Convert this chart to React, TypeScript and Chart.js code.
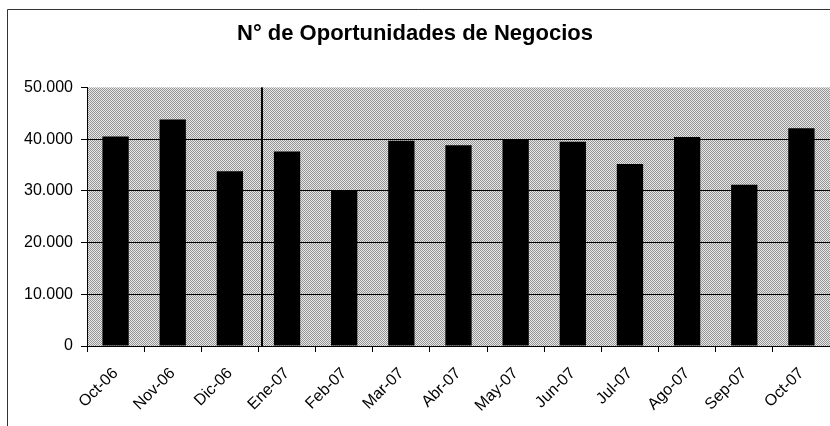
import React, { useEffect, useRef } from "react";
import { Chart, registerables } from "chart.js";

Chart.register(...registerables);

const categories = [
  "Oct-06", "Nov-06", "Dic-06", "Ene-07", "Feb-07", "Mar-07", "Abr-07",
  "May-07", "Jun-07", "Jul-07", "Ago-07", "Sep-07", "Oct-07",
];
const oportunidades = [
  40500, 43800, 33800, 37600, 30000, 39700, 38800,
  40000, 39500, 35200, 40400, 31200, 42100,
];
const yMin = 0;
const yMax = 50000;
const yStep = 10000;
const separatorIndex = 3; // line before Ene-07
const titleText = "N° de Oportunidades de Negocios";

const FONT = "'Liberation Sans', Arial, sans-serif";

function fmt(v: number) {
  return String(v).replace(/\B(?=(\d{3})+(?!\d))/g, ".");
}

function makePattern(ctx: CanvasRenderingContext2D) {
  const c = document.createElement("canvas");
  c.width = 2;
  c.height = 2;
  const p = c.getContext("2d")!;
  p.fillStyle = "#e8e8e8";
  p.fillRect(0, 0, 2, 2);
  p.fillStyle = "#949494";
  p.fillRect(0, 0, 1, 1);
  p.fillRect(1, 1, 1, 1);
  return ctx.createPattern(c, "repeat");
}

const decor = {
  id: "decor",
  beforeDraw(chart: any) {
    const { ctx, chartArea } = chart;
    ctx.save();
    ctx.strokeStyle = "#333";
    ctx.lineWidth = 1;
    ctx.beginPath();
    ctx.moveTo(7.5, chart.height);
    ctx.lineTo(7.5, 9.5);
    ctx.lineTo(chart.width, 9.5);
    ctx.stroke();
    const pat = makePattern(ctx);
    ctx.fillStyle = pat || "#bebebe";
    ctx.fillRect(chartArea.left, chartArea.top, chartArea.right - chartArea.left, chartArea.bottom - chartArea.top);
    ctx.restore();
  },
  afterDatasetsDraw(chart: any) {
    const { ctx, chartArea } = chart;
    const xs = chart.scales.x;
    const x = Math.round((xs.getPixelForValue(separatorIndex - 1) + xs.getPixelForValue(separatorIndex)) / 2) + 3;
    ctx.save();
    ctx.fillStyle = "#000";
    ctx.fillRect(x, chartArea.top, 2, chartArea.bottom - chartArea.top);
    ctx.restore();
  },
};

export default function App() {
  const ref = useRef<HTMLCanvasElement | null>(null);
  useEffect(() => {
    if (!ref.current) return;
    const chart = new Chart(ref.current, {
      type: "bar",
      data: {
        labels: categories,
        datasets: [
          {
            data: oportunidades,
            backgroundColor: "#000",
            borderWidth: 0,
            barPercentage: 0.46,
            categoryPercentage: 1,
          },
        ],
      },
      plugins: [decor],
      options: {
        animation: false,
        responsive: true,
        maintainAspectRatio: false,
        layout: { padding: { left: 0, right: 0, top: 0, bottom: 0 } },
        plugins: {
          legend: { display: false },
          tooltip: { enabled: false },
          title: {
            display: true,
            text: titleText,
            color: "#000",
            font: { family: FONT, size: 22, weight: "bold" },
            padding: { top: 21, bottom: 40 },
          },
        },
        scales: {
          x: {
            offset: true,
            grid: {
              offset: true,
              drawOnChartArea: false,
              drawTicks: true,
              tickLength: 6,
              tickColor: "#000",
            },
            border: { display: true, color: "#000", width: 1 },
            ticks: {
              color: "#000",
              font: { family: FONT, size: 16 },
              minRotation: 45,
              maxRotation: 45,
              padding: 12,
              autoSkip: false,
            },
            afterFit(scale: any) {
              scale.height = 80;
            },
          },
          y: {
            min: yMin,
            max: yMax,
            grid: {
              color: (c: any) => (c.tick && c.tick.value === yMax ? "rgba(0,0,0,0)" : "#000"),
              tickColor: "#000",
              tickLength: 6,
              lineWidth: 1,
            },
            border: { display: true, color: "#000", width: 1 },
            ticks: {
              stepSize: yStep,
              color: "#000",
              font: { family: FONT, size: 16 },
              padding: 8,
              callback: (v: any) => fmt(Number(v)),
            },
            afterFit(scale: any) {
              scale.width = 87;
            },
          },
        },
      },
    });
    return () => chart.destroy();
  }, []);
  return (
    <div style={{ position: "fixed", left: 0, top: 0, width: 830, height: 426 }}>
      <canvas ref={ref} />
    </div>
  );
}
